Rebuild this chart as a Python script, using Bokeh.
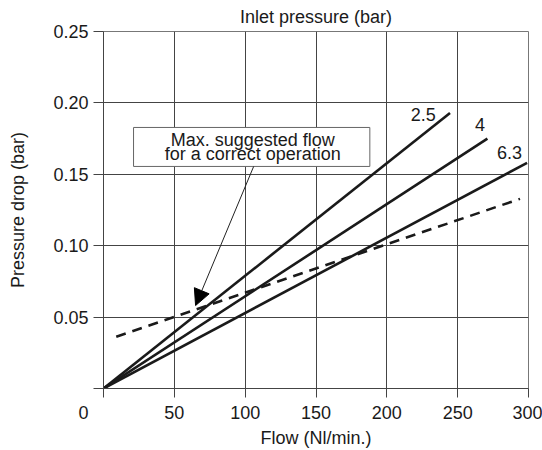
from bokeh.plotting import figure
from bokeh.models import (FixedTicker, LabelSet, Arrow, NormalHead,
                          ColumnDataSource, Range1d)
from bokeh.core.properties import value
from bokeh.embed import file_html
from bokeh.resources import INLINE

# ---- data ----
flow_25 = [0, 244.6]
drop_25 = [0, 0.193]
flow_4 = [0, 271]
drop_4 = [0, 0.175]
flow_63 = [0, 299]
drop_63 = [0, 0.158]
flow_max = [9, 294]
drop_max = [0.0363, 0.1328]

curve_names = ["2.5", "4", "6.3"]
curve_label_x = [225.8, 265.7, 286.6]
curve_label_y = [0.1919, 0.1852, 0.1655]

x_ticks = [0, 50, 100, 150, 200, 250, 300]
x_tick_labels = ["0" + "\u00a0" * 8, "50", "100", "150", "200", "250", "300"]
y_ticks = [0, 0.05, 0.10, 0.15, 0.20, 0.25]
y_tick_labels = ["", "0.05", "0.10", "0.15", "0.20", "0.25"]

box_lines = ["Max. suggested flow", "for a correct operation"]

FONT = "Liberation Sans"
DARK = "#1a1a1a"
GRID = "#444444"

p = figure(width=542, height=450, output_backend="svg", toolbar_location=None,
           x_range=Range1d(0, 300), y_range=Range1d(0, 0.25),
           min_border_left=103, min_border_right=14, min_border_top=31,
           min_border_bottom=62, title="Inlet pressure (bar)")

p.title.align = "center"
p.title.vertical_align = "top"
p.title.text_font = FONT
p.title.text_font_size = "18px"
p.title.text_font_style = "normal"
p.title.text_color = DARK
p.title.standoff = 6
p.title.offset = 0

p.outline_line_color = "#777777"
p.outline_line_width = 1
p.outline_line_alpha = 1

# axes
p.xaxis.ticker = FixedTicker(ticks=x_ticks)
p.yaxis.ticker = FixedTicker(ticks=y_ticks)
p.xaxis.major_label_overrides = {t: l for t, l in zip(x_ticks, x_tick_labels)}
p.yaxis.major_label_overrides = {t: l for t, l in zip(y_ticks, y_tick_labels)}
p.xaxis.axis_label = "Flow (Nl/min.)"
p.yaxis.axis_label = "Pressure drop (bar)"
for ax in (p.xaxis, p.yaxis):
    ax.axis_line_color = GRID
    ax.major_tick_line_color = GRID
    ax.minor_tick_line_color = None
    ax.major_tick_in = 0
    ax.major_label_text_font = FONT
    ax.major_label_text_font_size = "18px"
    ax.major_label_text_color = DARK
    ax.axis_label_text_font = FONT
    ax.axis_label_text_font_size = "18px"
    ax.axis_label_text_font_style = "normal"
    ax.axis_label_text_color = DARK
p.xaxis.major_tick_out = 9
p.yaxis.major_tick_out = 10
p.xaxis.major_label_standoff = 5
p.yaxis.major_label_standoff = 5
p.xaxis.axis_label_standoff = 2
p.yaxis.axis_label_standoff = 22

p.xgrid.ticker = FixedTicker(ticks=x_ticks)
p.ygrid.ticker = FixedTicker(ticks=y_ticks)
for g in (p.xgrid, p.ygrid):
    g.grid_line_color = GRID
    g.grid_line_width = 1
    g.grid_line_alpha = 1

# curves
p.line(flow_25, drop_25, line_color=DARK, line_width=2.6)
p.line(flow_4, drop_4, line_color=DARK, line_width=2.6)
p.line(flow_63, drop_63, line_color=DARK, line_width=2.6)
p.line(flow_max, drop_max, line_color=DARK, line_width=2.6, line_dash="10 7")

# curve labels
src = ColumnDataSource(dict(x=curve_label_x, y=curve_label_y, t=curve_names))
p.add_layout(LabelSet(x="x", y="y", text="t", source=src,
                      text_align="center", text_baseline="middle",
                      text_font=value(FONT), text_font_size=value("18px"),
                      text_color=DARK))

# annotation box
p.quad(left=[21.2], right=[188], top=[0.1828], bottom=[0.1555],
       fill_color="white", line_color="#666666", line_width=1)
p.text(x=[105.3, 105.3], y=[0.1737, 0.1642], text=box_lines,
       text_align="center", text_baseline="alphabetic",
       text_font=value(FONT), text_font_size="18px", text_color=DARK)

p.add_layout(Arrow(end=NormalHead(size=16, fill_color="black", line_color="black"),
                   x_start=106, y_start=0.1555, x_end=65, y_end=0.0581,
                   line_width=1, line_color="#222222"))

open("out.html", "w").write(file_html(p, INLINE))
